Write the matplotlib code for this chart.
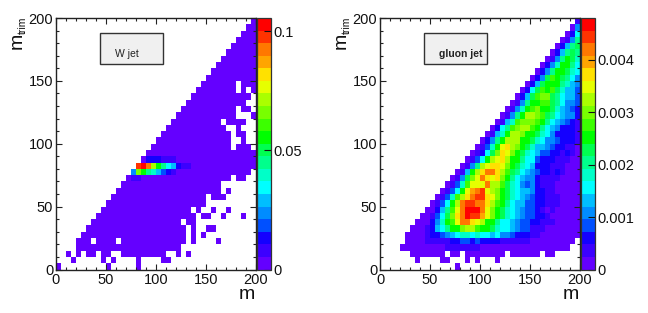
import matplotlib
matplotlib.use('Agg')
import matplotlib.pyplot as plt
from matplotlib.colors import ListedColormap, BoundaryNorm
from matplotlib.patches import Rectangle
from matplotlib.ticker import MultipleLocator
import numpy as np

plt.rcParams['font.family'] = ['Liberation Sans', 'DejaVu Sans']

# palette a 20 niveaux, du bas vers le haut
palette = ['#6400ff', '#3c00ff', '#1400ff', '#0050ff', '#008cff', '#00beff', '#00ffff', '#00ffc8',
           '#00ff8c', '#00ff50', '#00ff00', '#3cff00', '#78ff00', '#aaff00', '#e6ff00', '#ffe100',
           '#ffa500', '#ff7800', '#ff3300', '#ff0000']
digits = '0123456789abcdefghij'  # niveau de couleur d'une case, '.' = case vide

bin_edges = np.arange(0, 205, 5)
w_zmax = 0.1056
gluon_zmax = 0.0048
w_ticks = [0, 0.05, 0.1]
w_ticklabels = ['0', '0.05', '0.1']
gluon_ticks = [0, 0.001, 0.002, 0.003, 0.004]
gluon_ticklabels = ['0', '0.001', '0.002', '0.003', '0.004']

# premiere colonne remplie de chaque ligne, de m_trim = 0 vers le haut
w_start = [0, 3, 2, 4, 4, 5, 6, 7, 8, 9, 10, 11, 12, 13, 14, 15, 16, 17, 18, 19,
           20, 21, 22, 23, 24, 25, 26, 27, 28, 29, 30, 31, 32, 33, 34, 35, 36, 37, 38, 39]
w_cells = [
    '0.........0.....0',
    '0.....0.0....0....00',
    '0.0.00.00..000000000..0.0',
    '000000000000000000000',
    '000.0000.0000000000000.0....0',
    '000000000000000000000.0.0',
    '00000000000000000000.0..00',
    '000000000000000000.00',
    '00000000000000000000.00..0...0',
    '000000000000000000.0..0..0',
    '00000000000000000000',
    '0000000000000000000.000',
    '000000000000000000000.0',
    '00000000000000000000',
    '011000000000000000000.00',
    '4ca875321000000000000000',
    'ijhda8652110000000000000',
    '02221110000000000000000',
    '0000000000000000000000',
    '0000000000000000.000.',
    '000000000000000..0..',
    '00000000000000.00..',
    '000000000000..0...',
    '0000000000.0000..',
    '000000000000...0',
    '00000000000.00.',
    '000000000000..',
    '000000000000.',
    '00000000.0.0',
    '0000000.000',
    '0000000000',
    '000000000',
    '00000000',
    '0000000',
    '000000',
    '00000',
    '0000',
    '000',
    '00',
    '0',
]

gluon_start = [15, 7, 6, 4, 5, 5, 6, 7, 8, 9, 10, 11, 12, 13, 14, 15, 16, 17, 18, 19,
               20, 21, 22, 23, 24, 25, 26, 27, 28, 29, 30, 31, 32, 33, 34, 35, 36, 37, 38, 39]
gluon_cells = [
    '0',
    '0....00...0.0...0',
    '0000000.00.00000000.000000.00',
    '0000000001111111000000000000000000',
    '0000111112233232222111111000000000',
    '00001223456776766564432221100000000',
    '00012568aacddbaa976654331110000000',
    '000247abehhfedaa86654332211100000',
    '001369cfhjiigeca9765433221000000',
    '00258behjjjheca9765433210100000',
    '0136adhiihhfdba865533221110000',
    '0137bdfhiifeca976543221110000',
    '0136aeghiedca976554221100000',
    '0137beeehddb976434211100000',
    '0149cehfefca86544211110000',
    '015adfhhfdb98654322121000',
    '0148deffeca9765222111000',
    '0136adefdaa866322211100',
    '01269cfeca976533221210',
    '0137aefdca97554322110',
    '0248adddaa9764432221',
    '0157addcaa976422221',
    '0268bcddba86542221',
    '0157bcccba8654321',
    '0148addcb9865442',
    '0147abcaa975432',
    '0148aabb986443',
    '0259bcc986553',
    '0269bab97553',
    '0259aaa8754',
    '0249ba9864',
    '0248aa976',
    '0247aa86',
    '0148a97',
    '025898',
    '02589',
    '0148',
    '026',
    '04',
    '1',
]


def to_grid(start, cells, zmax):
    grid = np.full((40, 40), np.nan)
    for r in range(40):
        for i, c in enumerate(cells[r]):
            col = start[r] + i
            if c != '.' and col < 40:
                grid[r, col] = (digits.index(c) + 0.5) / 20 * zmax
    return grid


def panel(fig, left, grid, zmax, ticks, ticklabels, name, bold):
    W, H = 648.0, 313.0
    ax = fig.add_axes([left / W, (H - 269.5) / H, 200 / W, 251.5 / H])
    cax = fig.add_axes([(left + 200.5) / W, (H - 269.5) / H, 14.5 / W, 251.5 / H])
    cmap = ListedColormap(palette)
    cmap.set_bad('white')
    levels = np.linspace(0, zmax, 21)
    norm = BoundaryNorm(levels, 20)
    mesh = ax.pcolormesh(bin_edges, bin_edges, np.ma.masked_invalid(grid), cmap=cmap, norm=norm,
                         antialiased=True, linewidth=0)
    ax.set_xlim(0, 200)
    ax.set_ylim(0, 200)
    ax.xaxis.set_major_locator(MultipleLocator(50))
    ax.xaxis.set_minor_locator(MultipleLocator(10))
    ax.yaxis.set_major_locator(MultipleLocator(50))
    ax.yaxis.set_minor_locator(MultipleLocator(10))
    ax.tick_params(which='major', direction='in', top=True, right=True, length=4.4, width=0.8,
                   labelsize=10.5, color='#222222', labelcolor='#111111')
    ax.tick_params(which='minor', direction='in', top=True, right=True, length=2.2, width=0.8,
                   color='#222222')
    ax.tick_params(axis='x', pad=2.5)
    ax.tick_params(axis='y', pad=2)
    for s in ax.spines.values():
        s.set_linewidth(1.0)
        s.set_color('#222222')
    ax.set_axisbelow(False)

    ax.set_xlabel('m', loc='right', fontsize=14, color='#111111')
    ax.xaxis.set_label_coords(0.995, -0.065)
    # m et l'indice "trim" en deux textes : l'indice est tres petit sur l'original
    ax.text(-0.195, 0.908, 'm', transform=ax.transAxes, rotation=90, fontsize=14, ha='center', va='center',
            color='#111111')
    ax.text(-0.168, 0.972, 'trim', transform=ax.transAxes, rotation=90, fontsize=7.5, ha='center', va='center',
            color='#111111')

    ax.add_patch(Rectangle((0.218, 0.816), 0.315, 0.123, transform=ax.transAxes, facecolor='#f0f0f0',
                           edgecolor='#333333', linewidth=1.0, zorder=5))
    ax.text(0.295, 0.858, name, transform=ax.transAxes, fontsize=7.5, ha='left', va='center',
            fontweight='bold' if bold else 'normal', color='#222222', zorder=6)

    cb = fig.colorbar(mesh, cax=cax, boundaries=levels, spacing='proportional', ticks=ticks, drawedges=False)
    cb.outline.set_linewidth(0.9)
    cb.outline.set_edgecolor('#333333')
    cb.ax.minorticks_off()
    cb.set_ticks(ticks, labels=ticklabels)
    cax.tick_params(axis='y', direction='in', right=True, left=False, length=5, width=0.8, labelsize=10.5,
                    pad=1.5, color='#111111', labelcolor='#111111')
    return ax


fig = plt.figure(figsize=(6.48, 3.13), dpi=100)
panel(fig, 56, to_grid(w_start, w_cells, w_zmax), w_zmax, w_ticks, w_ticklabels, 'W jet', False)
panel(fig, 380, to_grid(gluon_start, gluon_cells, gluon_zmax), gluon_zmax, gluon_ticks, gluon_ticklabels,
      'gluon jet', True)
fig.savefig('out.png', dpi=100)
